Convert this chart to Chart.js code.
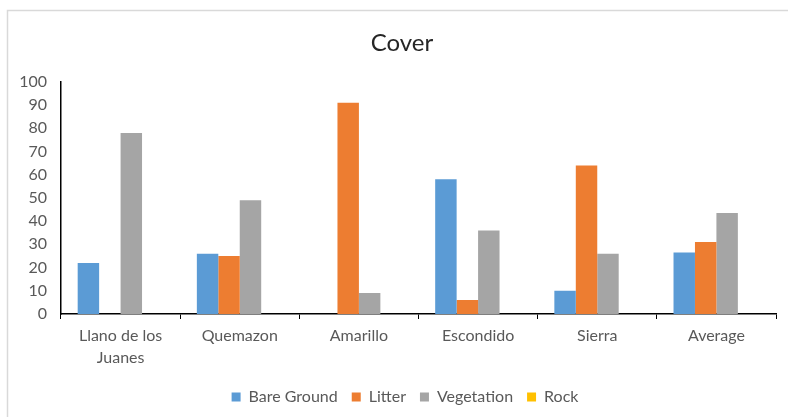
<!DOCTYPE html>
<html>
<head>
<meta charset="utf-8">
<script src="https://cdn.jsdelivr.net/npm/chart.js@4/dist/chart.umd.min.js"></script>
<style>
  html, body { margin: 0; padding: 0; background: #fff; }
  #wrap { width: 788px; height: 417px; position: relative; }
</style>
</head>
<body>
<div id="wrap"><canvas id="c" width="788" height="417"></canvas></div>
<script>
// Ground cover by site (%)
const categories = [['Llano de los', 'Juanes'], 'Quemazon', 'Amarillo', 'Escondido', 'Sierra', 'Average'];
const bareGround = [22, 26, 0, 58, 10, 26.5];
const litter     = [0, 25, 91, 6, 64, 31];
const vegetation = [78, 49, 9, 36, 26, 43.5];
const rock       = [0, 0, 0, 0, 0, 0];
const yTicks = { min: 0, max: 100, step: 10 };

const textColor = '#595959';
const fontFamily = 'Lato, "Open Sans", sans-serif';

// White background plus the light frame around the chart
const framePlugin = {
  id: 'frame',
  beforeDraw(chart) {
    const ctx = chart.ctx;
    ctx.save();
    ctx.fillStyle = '#fff';
    ctx.fillRect(0, 0, chart.width, chart.height);
    ctx.strokeStyle = '#d9d9d9';
    ctx.lineWidth = 1.5;
    ctx.strokeRect(7.5, 10.5, chart.width + 10, chart.height + 10);
    ctx.restore();
  }
};

// Centre the title and legend on the framed area rather than the padded canvas
const centreOnFrame = {
  id: 'centreOnFrame',
  afterLayout(chart) {
    if (chart.titleBlock) chart.titleBlock.left += 20;
    if (chart.legend) chart.legend.left += 26;
  }
};

new Chart(document.getElementById('c'), {
  type: 'bar',
  data: {
    labels: categories,
    datasets: [
      { label: 'Bare Ground', data: bareGround, backgroundColor: '#5B9BD5' },
      { label: 'Litter', data: litter, backgroundColor: '#ED7D31' },
      { label: 'Vegetation', data: vegetation, backgroundColor: '#A5A5A5' },
      { label: 'Rock', data: rock, backgroundColor: '#FFC000' }
    ]
  },
  options: {
    responsive: false,
    animation: false,
    devicePixelRatio: 1,
    layout: { padding: { left: 8, right: 12, top: 0, bottom: 2 } },
    datasets: { bar: { categoryPercentage: 0.72, barPercentage: 1.0 } },
    plugins: {
      title: {
        display: true,
        text: 'Cover',
        color: '#262626',
        font: { family: fontFamily, size: 24, weight: 'normal' },
        padding: { top: 29, bottom: 24 }
      },
      legend: {
        position: 'bottom',
        labels: {
          color: textColor,
          font: { family: fontFamily, size: 16 },
          boxWidth: 9,
          boxHeight: 9,
          padding: 14
        }
      },
      tooltip: { enabled: false }
    },
    scales: {
      x: {
        grid: {
          display: true,
          drawOnChartArea: false,
          drawTicks: true,
          tickLength: 5,
          color: '#000',
          offset: true
        },
        border: { display: true, color: '#000', width: 1.5 },
        ticks: {
          color: textColor,
          font: { family: fontFamily, size: 16, lineHeight: 1.35 },
          padding: 6,
          maxRotation: 0,
          autoSkip: false
        },
        afterFit(scale) { scale.height = 61; }
      },
      y: {
        min: yTicks.min,
        max: yTicks.max,
        grid: { display: false, drawTicks: false },
        border: { display: true, color: '#000', width: 1.5 },
        ticks: {
          stepSize: yTicks.step,
          color: textColor,
          font: { family: fontFamily, size: 16 },
          padding: 14
        },
        afterFit(scale) { scale.width = 53; }
      }
    }
  },
  plugins: [framePlugin, centreOnFrame]
});
</script>
</body>
</html>
